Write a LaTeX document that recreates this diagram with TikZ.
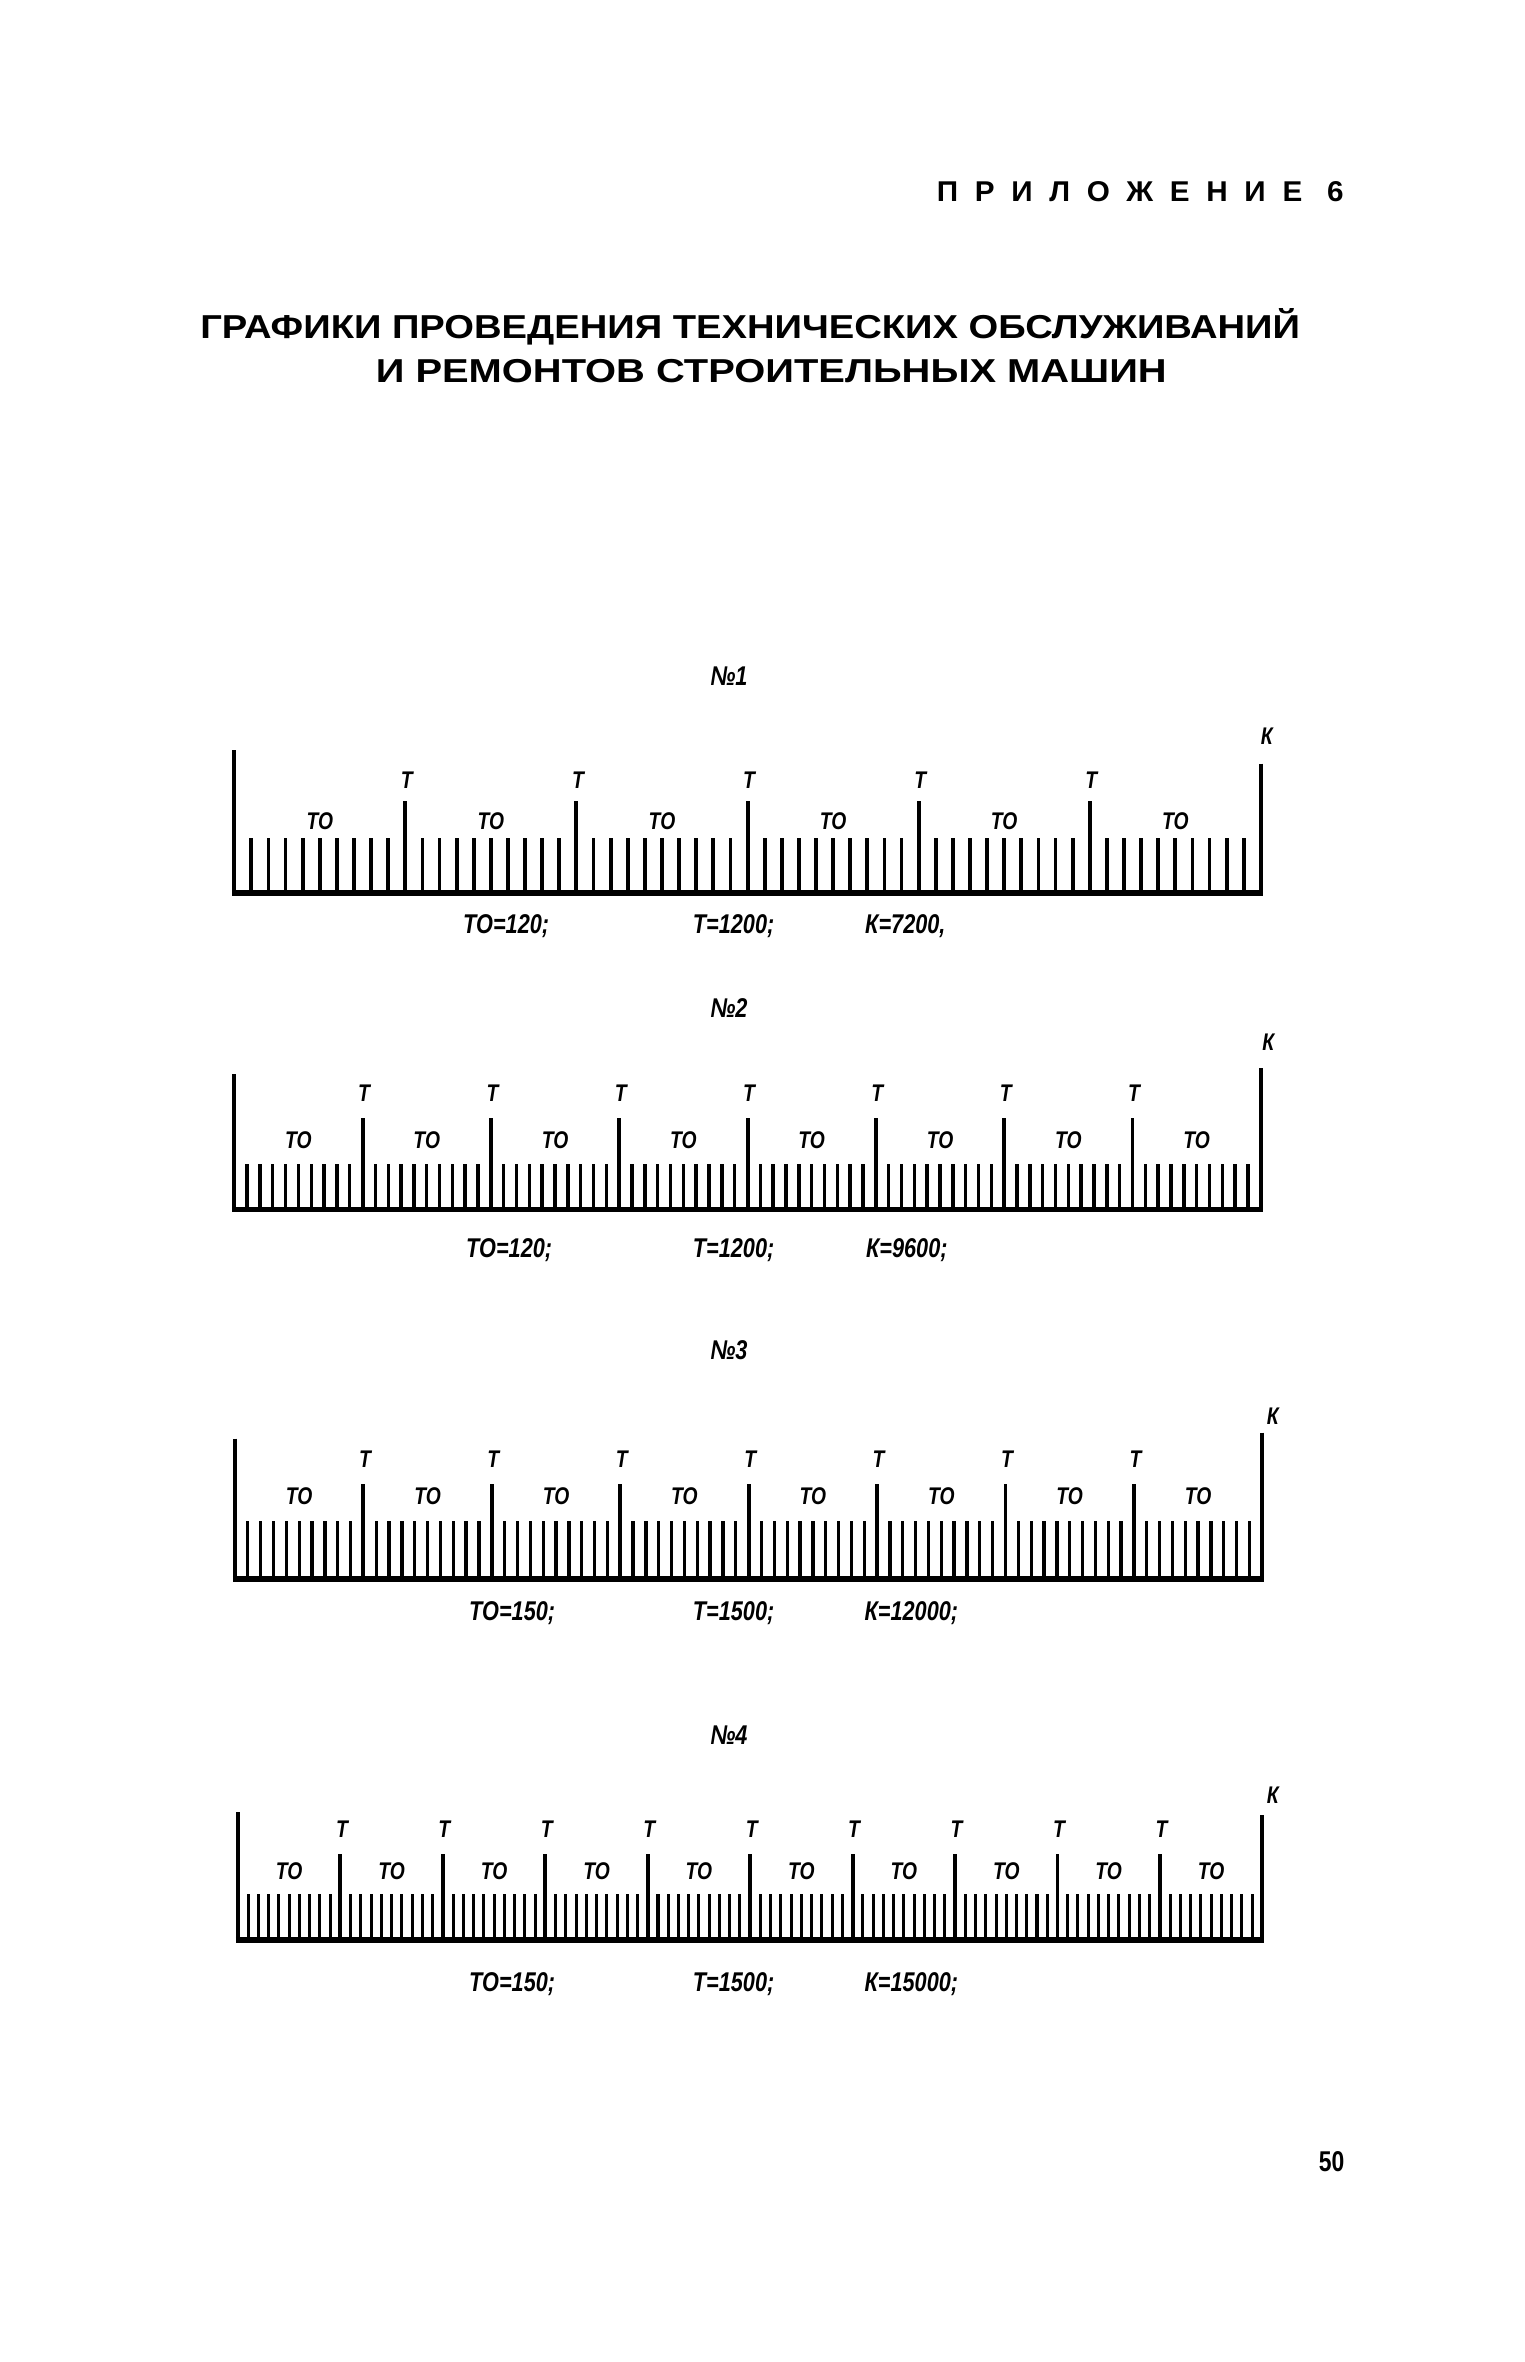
\documentclass[tikz,border=0pt]{standalone}
\usepackage{fontspec}
\usepackage{graphicx}
\setmainfont{Liberation Sans}
\newfontfamily\condf[FakeStretch=0.8]{Liberation Sans}
\tikzset{
  smalltick/.style={line width=2pt},
  tmarkline/.style={line width=2.6pt},
  edgeline/.style={line width=2.8pt},
  baseln/.style={line width=3.8pt},
  lab/.style={font=\condf\bfseries\itshape\fontsize{16}{16}\selectfont, inner sep=0pt},
  btxt/.style={font=\condf\bfseries\itshape\fontsize{18}{18}\selectfont, inner sep=0pt, anchor=base},
  numlab/.style={font=\condf\bfseries\itshape\fontsize{18}{18}\selectfont, inner sep=0pt},
}
\newcommand{\drawchart}[1]{%
  \pgfmathsetmacro\cD{(\cB-\cA)/\cN}%
  \pgfmathtruncatemacro\cM{\cN-1}%
  \pgfmathtruncatemacro\cG{\cN/10-1}%
  \foreach \i in {1,...,\cM}{%
    \pgfmathtruncatemacro\cRem{mod(\i,10)}%
    \ifnum\cRem=0
      \draw[tmarkline] (\cA+\i*\cD,\cBase) -- (\cA+\i*\cD,\cT);
      \node[lab] (t#1-\i) at (\cA+\i*\cD+1,\cTl) {Т};
    \else
      \draw[smalltick,line width=\cW] (\cA+\i*\cD,\cBase) -- (\cA+\i*\cD,\cS);
    \fi
  }%
  \foreach \j in {0,...,\cG}{%
    \node[lab] (to#1-\j) at (\cA+\j*10*\cD+5*\cD,\cTOl) {ТО};
  }%
  \draw[edgeline] (\cA,\cL) -- (\cA,\cBase);
  \draw[edgeline] (\cB,\cR) -- (\cB,\cBase);
  \draw[baseln] (\cA-1.4,\cBase) -- (\cB+1.4,\cBase);
  \node[lab] (k#1) at (\cKx,\cKy) {К};
}
\begin{document}
\begin{tikzpicture}[x=1pt,y=-1pt]
\fill[white] (0,0) rectangle (1012,1568);
\useasboundingbox (0,0) rectangle (1012,1568);

% headings
\node[inner sep=0pt, anchor=base] (app) at (757,134)
  {\resizebox{270pt}{\height}{\condf\bfseries\fontsize{19}{19}\selectfont\addfontfeatures{LetterSpace=45}ПРИЛОЖЕНИЕ 6}};
\node[inner sep=0pt, anchor=base] (title1) at (498,225)
  {\resizebox{730pt}{\height}{\condf\bfseries\fontsize{22}{22}\selectfont ГРАФИКИ ПРОВЕДЕНИЯ ТЕХНИЧЕСКИХ ОБСЛУЖИВАНИЙ}};
\node[inner sep=0pt, anchor=base] (title2) at (512,254)
  {\resizebox{525pt}{\height}{\condf\bfseries\fontsize{22}{22}\selectfont И РЕМОНТОВ СТРОИТЕЛЬНЫХ МАШИН}};

% chart 1
\node[numlab] (n1) at (484,449) {№1};
\def\cA{155.5}\def\cB{837}\def\cN{60}\def\cBase{593}\def\cS{556}\def\cT{532}
\def\cL{498}\def\cR{507}\def\cTl{518}\def\cTOl{545}\def\cKx{841}\def\cKy{489}\def\cW{2.5pt}
\drawchart{1}
\node[btxt] (p1a) at (336,620) {ТО=120;};
\node[btxt] (p1b) at (487,620) {Т=1200;};
\node[btxt] (p1c) at (601,620) {К=7200,};

% chart 2
\node[numlab] (n2) at (484,669) {№2};
\def\cA{155.5}\def\cB{837}\def\cN{80}\def\cBase{803}\def\cS{773}\def\cT{742}
\def\cL{713}\def\cR{709}\def\cTl{726}\def\cTOl{757}\def\cKx{842}\def\cKy{692}\def\cW{2.3pt}
\drawchart{2}
\node[btxt] (p2a) at (338,835) {ТО=120;};
\node[btxt] (p2b) at (487,835) {Т=1200;};
\node[btxt] (p2c) at (602,835) {К=9600;};

% chart 3
\node[numlab] (n3) at (484,896) {№3};
\def\cA{156}\def\cB{838}\def\cN{80}\def\cBase{1048}\def\cS{1010}\def\cT{985}
\def\cL{955}\def\cR{951}\def\cTl{969}\def\cTOl{993}\def\cKx{845}\def\cKy{940}\def\cW{2.2pt}
\drawchart{3}
\node[btxt] (p3a) at (340,1076) {ТО=150;};
\node[btxt] (p3b) at (487,1076) {Т=1500;};
\node[btxt] (p3c) at (605,1076) {К=12000;};

% chart 4
\node[numlab] (n4) at (484,1152) {№4};
\def\cA{158}\def\cB{838}\def\cN{100}\def\cBase{1288}\def\cS{1257}\def\cT{1231}
\def\cL{1203}\def\cR{1205}\def\cTl{1214}\def\cTOl{1242}\def\cKx{845}\def\cKy{1192}\def\cW{2pt}
\drawchart{4}
\node[btxt] (p4a) at (340,1322) {ТО=150;};
\node[btxt] (p4b) at (487,1322) {Т=1500;};
\node[btxt] (p4c) at (605,1322) {К=15000;};

% page number
\node[inner sep=0pt, font=\condf\bfseries\fontsize{19}{19}\selectfont] (page) at (884,1435) {50};
\end{tikzpicture}
\end{document}
